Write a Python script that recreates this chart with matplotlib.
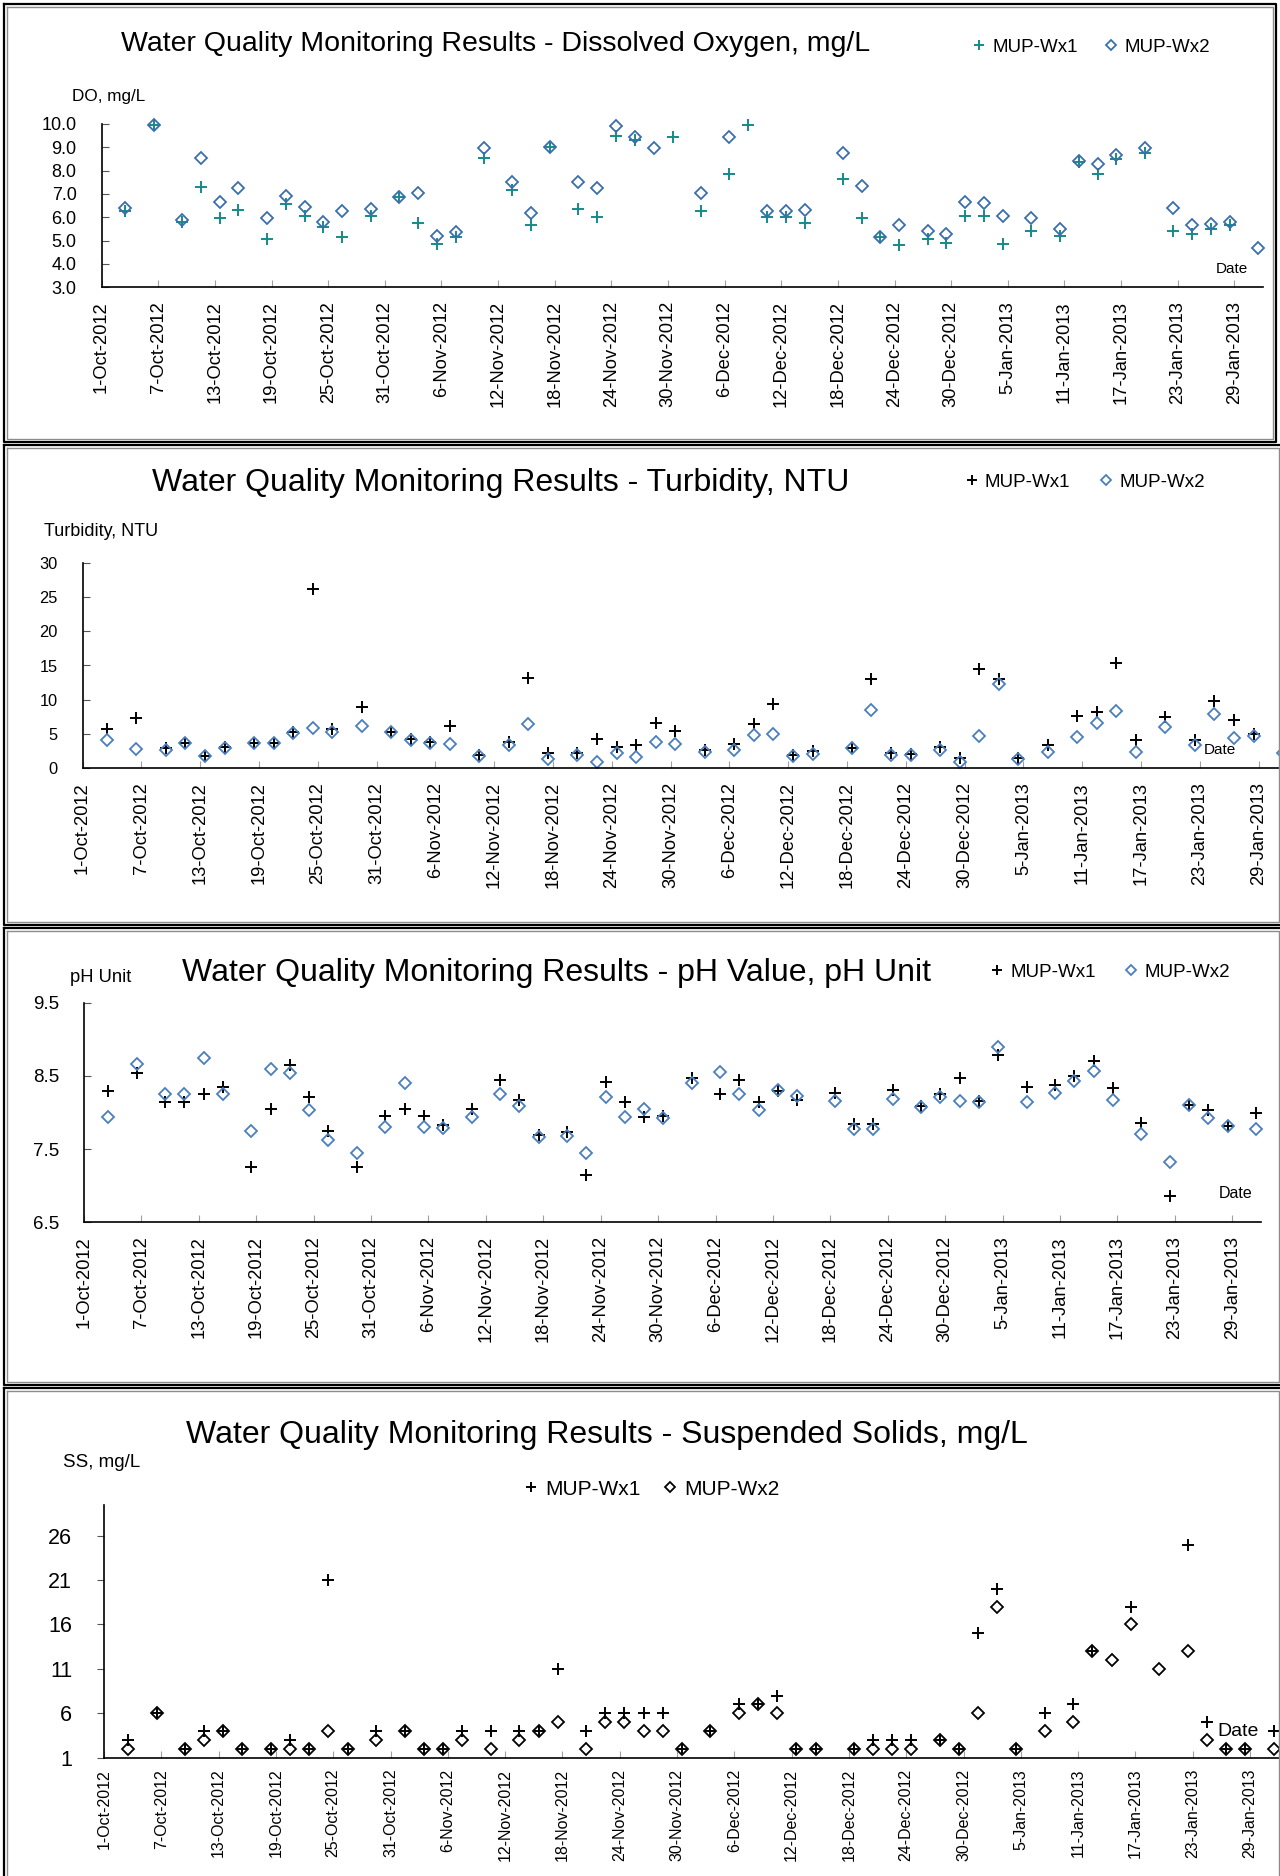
import numpy as np
import matplotlib
matplotlib.use('Agg')
import matplotlib.pyplot as plt
import matplotlib.dates as mdates
import matplotlib.transforms as mtransforms
from matplotlib import font_manager
from matplotlib.lines import Line2D
from matplotlib.ticker import FormatStrFormatter, FixedLocator

W, H = 1280, 1876

# sampling dates (same for all four parameters)
sample_dates = [
    '2012-10-03', '2012-10-06', '2012-10-09', '2012-10-11', '2012-10-13', '2012-10-15',
    '2012-10-18', '2012-10-20', '2012-10-22', '2012-10-24', '2012-10-26',
    '2012-10-29', '2012-11-01', '2012-11-03', '2012-11-05', '2012-11-07',
    '2012-11-10', '2012-11-13', '2012-11-15', '2012-11-17',
    '2012-11-20', '2012-11-22', '2012-11-24', '2012-11-26', '2012-11-28', '2012-11-30',
    '2012-12-03', '2012-12-06', '2012-12-08', '2012-12-10', '2012-12-12', '2012-12-14',
    '2012-12-18', '2012-12-20', '2012-12-22', '2012-12-24',
    '2012-12-27', '2012-12-29', '2012-12-31', '2013-01-02', '2013-01-04',
    '2013-01-07', '2013-01-10', '2013-01-12', '2013-01-14', '2013-01-16',
    '2013-01-19', '2013-01-22', '2013-01-24', '2013-01-26', '2013-01-28', '2013-01-31',
]
nan = np.nan

do_wx1 = [6.25, 9.95, 5.8, 7.3, 5.95, 6.3,
          5.05, 6.55, 6.05, 5.6, 5.15,
          6.05, 6.85, 5.75, 4.85, 5.15,
          8.55, 7.15, 5.65, 9.0,
          6.35, 6.0, 9.5, 9.3, nan, 9.45,
          6.25, 7.85, 9.95, 6.0, 6.0, 5.75,
          7.65, 5.95, 5.15, 4.8,
          5.05, 4.9, 6.05, 6.05, 4.85,
          5.4, 5.2, 8.35, 7.85, 8.5,
          8.75, 5.4, 5.3, 5.5, 5.65, nan]
do_wx2 = [6.4, 9.95, 5.9, 8.55, 6.65, 7.25,
          5.95, 6.9, 6.45, 5.8, 6.25,
          6.35, 6.85, 7.05, 5.2, 5.35,
          8.95, 7.5, 6.2, 9.0,
          7.5, 7.25, 9.9, 9.45, 8.95, nan,
          7.05, 9.45, nan, 6.25, 6.25, 6.3,
          8.75, 7.35, 5.15, 5.65,
          5.4, 5.3, 6.65, 6.6, 6.05,
          5.95, 5.5, 8.4, 8.3, 8.65,
          8.95, 6.4, 5.65, 5.7, 5.8, 4.7]

turb_wx1 = [5.75, 7.3, 3.0, 3.65, 1.8, 3.15,
            3.75, 3.65, 5.35, 26.15, 5.7,
            9.0, 5.35, 4.3, 3.9, 6.15,
            1.95, 3.9, 13.2, 2.2,
            2.2, 4.25, 3.15, 3.4, 6.65, 5.4,
            2.6, 3.6, 6.5, 9.4, 2.0, 2.5,
            2.9, 13.1, 2.25, 2.15,
            3.1, 1.45, 14.5, 13.1, 1.45,
            3.35, 7.7, 8.15, 15.4, 4.1,
            7.45, 4.1, 9.85, 7.05, 5.05, nan]
turb_wx2 = [4.15, 2.75, 2.65, 3.65, 1.85, 3.0,
            3.65, 3.65, 5.2, 5.85, 5.35,
            6.2, 5.25, 4.15, 3.75, 3.55,
            1.85, 3.4, 6.4, 1.35,
            1.95, 0.95, 2.2, 1.7, 3.85, 3.6,
            2.4, 2.6, 4.8, 5.05, 1.8, 2.15,
            2.9, 8.55, 1.9, 1.9,
            2.65, 0.95, 4.7, 12.25, 1.3,
            2.4, 4.55, 6.6, 8.4, 2.4,
            6.0, 3.35, 7.9, 4.4, 4.7, 2.25]

ph_wx1 = [8.30, 8.54, 8.15, 8.15, 8.25, 8.35,
          7.25, 8.05, 8.65, 8.21, 7.75,
          7.25, 7.95, 8.05, 7.95, 7.83,
          8.05, 8.45, 8.17, 7.69,
          7.74, 7.15, 8.41, 8.14, 7.94, 7.95,
          8.47, 8.25, 8.45, 8.15, 8.30, 8.17,
          8.26, 7.84, 7.84, 8.31,
          8.09, 8.25, 8.47, 8.16, 8.79,
          8.35, 8.38, 8.50, 8.70, 8.33,
          7.85, 6.86, 8.10, 8.03, 7.82, 7.99]
ph_wx2 = [7.94, 8.66, 8.25, 8.25, 8.75, 8.25,
          7.75, 8.60, 8.54, 8.04, 7.63,
          7.44, 7.80, 8.40, 7.80, 7.79,
          7.94, 8.25, 8.09, 7.67,
          7.68, 7.44, 8.21, 7.94, 8.05, 7.93,
          8.40, 8.55, 8.25, 8.03, 8.31, 8.23,
          8.16, 7.77, 7.77, 8.19,
          8.07, 8.21, 8.16, 8.15, 8.90,
          8.15, 8.26, 8.43, 8.57, 8.17,
          7.71, 7.32, 8.10, 7.93, 7.82, 7.77]

ss_wx1 = [3, 6, 2, 4, 4, 2,
          2, 3, 2, 21, 2,
          4, 4, 2, 2, 4,
          4, 4, 4, 11,
          4, 6, 6, 6, 6, 2,
          4, 7, 7, 8, 2, 2,
          2, 3, 3, 3,
          3, 2, 15, 20, 2,
          6, 7, 13, nan, 18,
          nan, 25, 5, 2, 2, 4]
ss_wx2 = [2, 6, 2, 3, 4, 2,
          2, 2, 2, 4, 2,
          3, 4, 2, 2, 3,
          2, 3, 4, 5,
          2, 5, 5, 4, 4, 2,
          4, 6, 7, 6, 2, 2,
          2, 2, 2, 2,
          3, 2, 6, 18, 2,
          4, 5, 13, 12, 16,
          11, 13, 3, 2, 2, 2]

series_labels = ['MUP-Wx1', 'MUP-Wx2']

# fonts
installed = {f.name for f in font_manager.fontManager.ttflist}
NARROW = 'Liberation Sans Narrow' if 'Liberation Sans Narrow' in installed else 'Liberation Sans'
plt.rcParams['font.family'] = ['Liberation Sans', 'DejaVu Sans']

fig = plt.figure(figsize=(W / 100, H / 100), dpi=100)

x = mdates.date2num(np.array(sample_dates, dtype='datetime64[D]')) + 0.5
x0 = mdates.date2num(np.datetime64('2012-10-01'))
x1 = mdates.date2num(np.datetime64('2013-02-01'))
tick_days = np.arange(np.datetime64('2012-10-01'), np.datetime64('2013-02-01'), 6)
tick_x = mdates.date2num(tick_days)
tick_labels = ['{}-{}'.format(d.day, d.strftime('%b-%Y')) for d in tick_days.astype(object)]


def add_axes_px(left, top, right, bottom):
    return fig.add_axes([left / W, 1 - bottom / H, (right - left) / W, (bottom - top) / H])


def ftext(px, py, s, **kw):
    fig.text(px / W, 1 - py / H, s, **kw)


def frame(left, top, right, bottom):
    for off, col, lw in ((0, 'black', 1.6), (3, '#8c8c8c', 1.0)):
        xs = [left + off, right - off, right - off, left + off, left + off]
        ys = [top + off, top + off, bottom - off, bottom - off, top + off]
        fig.add_artist(Line2D([v / W for v in xs], [1 - v / H for v in ys],
                              transform=fig.transFigure, color=col, lw=lw))


def panel(box, y1, y2, c1, c2, ylim, yticks, yfmt, ytick_fs, xtick_fs, xpad, ydir):
    ax = add_axes_px(*box)
    h1, = ax.plot(x, y1, ls='none', marker='+', ms=9, mew=1.4, color=c1,
                  label=series_labels[0], clip_on=False)
    h2, = ax.plot(x, y2, ls='none', marker='D', ms=6.4, mew=1.3, mfc='none',
                  mec=c2, label=series_labels[1], clip_on=False)
    ax.set_xlim(x0, x1)
    ax.set_ylim(*ylim)
    ax.xaxis.set_major_locator(FixedLocator(tick_x))
    ax.set_xticklabels(tick_labels, rotation=90, fontsize=xtick_fs, va='top', ha='center')
    # labels sit a little right of their ticks, as in the original
    shift = mtransforms.ScaledTranslation(3 / 72, 0, fig.dpi_scale_trans)
    for lab in ax.get_xticklabels():
        lab.set_transform(lab.get_transform() + shift)
    ax.set_yticks(yticks)
    if yfmt:
        ax.yaxis.set_major_formatter(FormatStrFormatter(yfmt))
    ax.tick_params(axis='y', labelsize=ytick_fs, direction=ydir, length=5,
                   color='#555555', pad=18)
    ax.tick_params(axis='x', direction='in', length=5, color='#a0a0a0', pad=xpad)
    for s in ('top', 'right'):
        ax.spines[s].set_visible(False)
    for s in ('left', 'bottom'):
        ax.spines[s].set_linewidth(1.2)
        ax.spines[s].set_color('black')
    ax.patch.set_alpha(0)
    return ax, [h1, h2]


def legend(ax, handles, px, py, fs, colsp):
    ax.legend(handles=handles, loc='center left', bbox_to_anchor=(px / W, 1 - py / H),
              bbox_transform=fig.transFigure, ncol=2, frameon=False, fontsize=fs,
              borderpad=0, handlelength=0.8, handletextpad=0.3,
              columnspacing=colsp, markerscale=0.8)


# frames --------------------------------------------------------------------
frame(4, 4, 1276, 442)
frame(4, 445, 1282, 925)
frame(4, 928, 1282, 1385)
frame(4, 1388, 1282, 1880)

# Dissolved oxygen ---------------------------------------------------------
ax, hs = panel((101.6, 124, 1262.7, 287.3), do_wx1, do_wx2, '#148a8a', '#3b6eae',
               (3, 10), np.arange(3, 10.5, 1.0), '%.1f', 13, 13.2, 10, 'in')
ftext(496, 44, 'Water Quality Monitoring Results - Dissolved Oxygen, mg/L',
      ha='center', va='center', fontsize=24.5 if NARROW != 'Liberation Sans' else 20.5,
      family=[NARROW, 'DejaVu Sans'])
ftext(72, 96, 'DO, mg/L', ha='left', va='center', fontsize=12.3)
ftext(1248, 269, 'Date', ha='right', va='center', fontsize=11)
legend(ax, hs, 962, 47, 13.5, 1.4)

# Turbidity -----------------------------------------------------------------
ax, hs = panel((82.5, 562.7, 1288, 768.3), turb_wx1, turb_wx2, 'black', '#4a7fbf',
               (0, 30), np.arange(0, 31, 5), None, 11.8, 13.2, 10, 'in')
ftext(501, 483, 'Water Quality Monitoring Results - Turbidity, NTU',
      ha='center', va='center', fontsize=23)
ftext(44, 532, 'Turbidity, NTU', ha='left', va='center', fontsize=13)
ftext(1236, 750, 'Date', ha='right', va='center', fontsize=11)
legend(ax, hs, 955, 482, 13.5, 1.5)

# pH ---------------------------------------------------------------------------
ax, hs = panel((84, 1002.7, 1261, 1222.3), ph_wx1, ph_wx2, 'black', '#4a7fbf',
               (6.5, 9.5), [6.5, 7.5, 8.5, 9.5], None, 13.5, 13.2, 10, 'in')
ftext(556, 973, 'Water Quality Monitoring Results - pH Value, pH Unit',
      ha='center', va='center', fontsize=23)
ftext(70, 977, 'pH Unit', ha='left', va='center', fontsize=13.2)
ftext(1252, 1194, 'Date', ha='right', va='center', fontsize=11.5)
legend(ax, hs, 980, 972, 13.5, 1.5)

# Suspended solids --------------------------------------------------------
ax, hs = panel((104, 1504.6, 1278.7, 1757.7), ss_wx1, ss_wx2, 'black', 'black',
               (1, 29.5), np.arange(1, 27, 5), None, 15.5, 11.5, 8, 'out')
ftext(607, 1435, 'Water Quality Monitoring Results - Suspended Solids, mg/L',
      ha='center', va='center', fontsize=23)
ftext(63, 1462, 'SS, mg/L', ha='left', va='center', fontsize=13.5)
ftext(1259, 1731, 'Date', ha='right', va='center', fontsize=14)
legend(ax, hs, 512, 1489, 15, 1.0)

fig.savefig('out.png', dpi=100)
